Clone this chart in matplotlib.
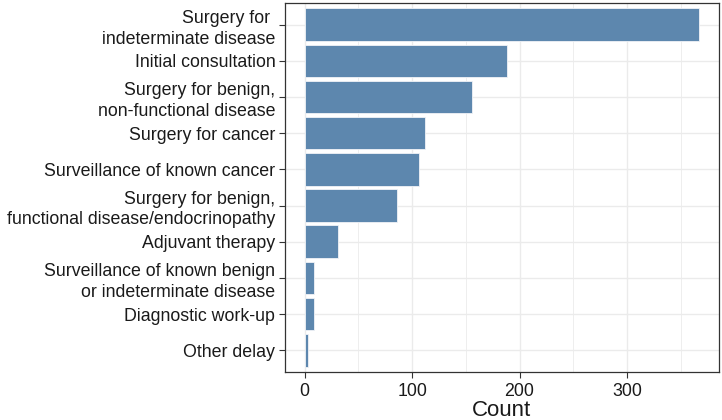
import matplotlib
matplotlib.use("Agg")
import matplotlib.pyplot as plt
from matplotlib.ticker import MultipleLocator

plt.rcParams['font.family'] = ['Liberation Sans', 'DejaVu Sans']

# categories from top to bottom
categories = [
    "Surgery for \nindeterminate disease",
    "Initial consultation",
    "Surgery for benign,\nnon-functional disease",
    "Surgery for cancer",
    "Surveillance of known cancer",
    "Surgery for benign,\nfunctional disease/endocrinopathy",
    "Adjuvant therapy",
    "Surveillance of known benign\nor indeterminate disease",
    "Diagnostic work-up",
    "Other delay",
]
counts = [367, 188, 156, 112, 106, 86, 31, 9, 9, 3]

bar_color = "#5d87ae"
grid_color = "#ebebeb"

fig = plt.figure(figsize=(7.22, 4.2), dpi=100)
ax = fig.add_axes([0.3947, 0.1143, 0.6007, 0.8787])

# reverse so the first category sits on top
ypos = list(range(1, len(categories) + 1))
ax.barh(ypos, counts[::-1], height=0.9, color=bar_color,
        edgecolor="#f0f3f7", linewidth=0.6, zorder=3)

xmax = max(counts)
ax.set_xlim(-0.05 * xmax, 1.05 * xmax)
ax.set_ylim(0.4, len(categories) + 0.6)

ax.set_yticks(ypos)
ax.set_yticklabels(categories[::-1], fontsize=12.8, color="#1a1a1a",
                   linespacing=1.3)
ax.xaxis.set_major_locator(MultipleLocator(100))
ax.xaxis.set_minor_locator(MultipleLocator(50))
ax.tick_params(axis="x", labelsize=12.8, labelcolor="#1a1a1a", length=4,
               width=0.8, color="#333333", pad=4)
ax.tick_params(axis="y", length=4, width=0.8, color="#333333", pad=3)
ax.tick_params(axis="x", which="minor", length=0)

ax.grid(True, which="major", color=grid_color, linewidth=1.0, zorder=0)
ax.grid(True, which="minor", axis="x", color=grid_color, linewidth=0.6, zorder=0)
ax.set_axisbelow(True)

for side in ax.spines.values():
    side.set_color("#333333")
    side.set_linewidth(0.9)

ax.set_xlabel("Count", fontsize=16, color="#1a1a1a", labelpad=0)

fig.savefig("out.png", dpi=100)
